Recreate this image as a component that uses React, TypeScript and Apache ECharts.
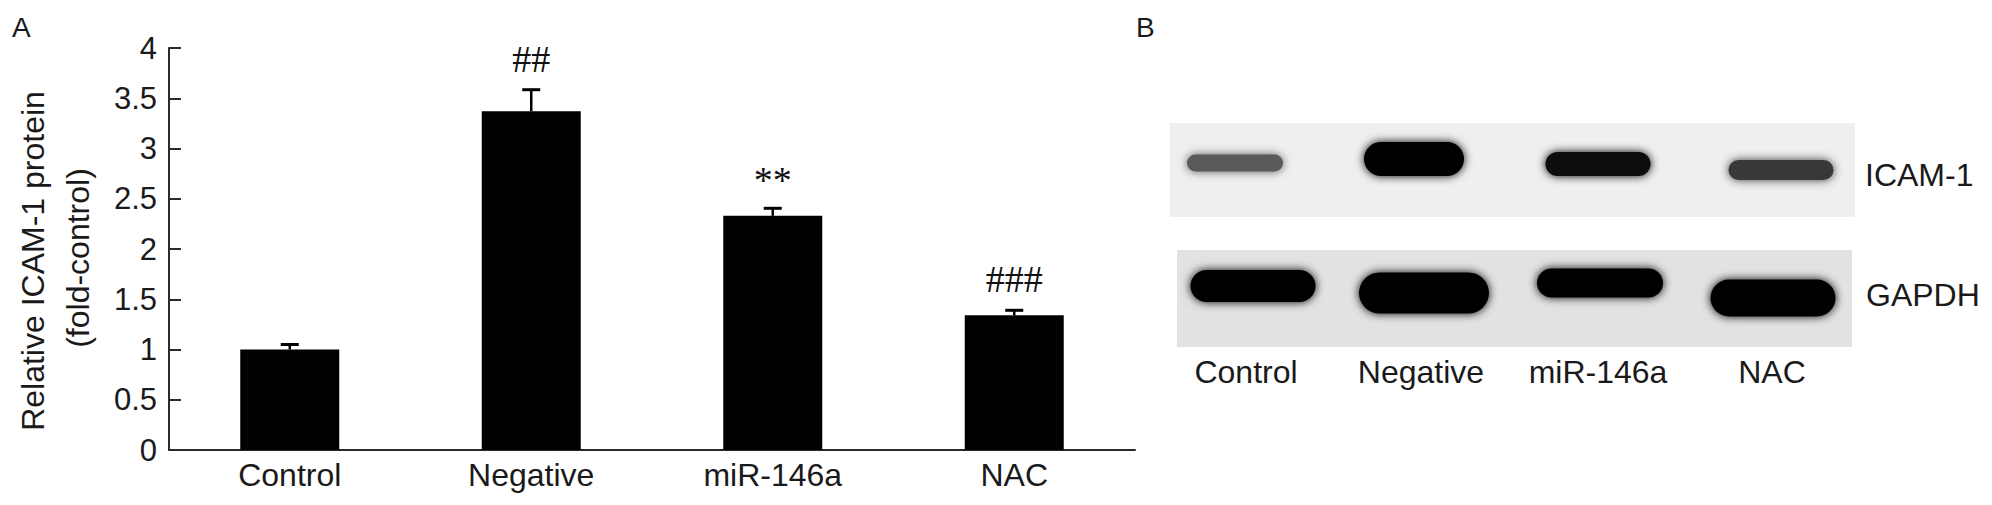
import React, { useEffect, useRef } from 'react';
import * as echarts from 'echarts';

// ---- Panel A data ----
const categories = ['Control', 'Negative', 'miR-146a', 'NAC'];
const means = [1.0, 3.37, 2.33, 1.34];
const errors = [0.05, 0.215, 0.075, 0.05];
const marks = ['', '##', '**', '###'];
const yAxisName = ['Relative ICAM-1 protein', '(fold-control)'];

// ---- Panel B (western blot) ----
const blotRows = ['ICAM-1', 'GAPDH'];
const blotLanes = ['Control', 'Negative', 'miR-146a', 'NAC'];
// band appearance per lane: [centerX, centerY, width, height, grey]
const icamBands = [
  [1235, 163, 96, 17, '#5a5a5a'],
  [1414, 159, 100, 34, '#050505'],
  [1598, 164, 105, 24, '#0c0c0c'],
  [1781, 170, 105, 20, '#383838'],
];
const gapdhBands = [
  [1253, 286, 125, 32, '#050505'],
  [1424, 293, 130, 41, '#000000'],
  [1600, 283, 126, 29, '#050505'],
  [1773, 298, 125, 37, '#000000'],
];
const laneLabelX = [1246, 1421, 1598, 1772];

const SANS = '"Liberation Sans", Arial, sans-serif';
const SERIF = '"Liberation Serif", "Times New Roman", serif';
const TXT = '#1a1a1a';
const AXIS = '#2a2a2a';

function bandRects(bands: any[]) {
  return bands.map((b) => {
    const [cx, cy, w, h, c] = b;
    return {
      type: 'rect',
      shape: { x: cx - w / 2, y: cy - h / 2, width: w, height: h, r: h / 2 },
      style: { fill: c, shadowBlur: 10, shadowColor: c },
      z: 10,
    };
  });
}

export default function App() {
  const ref = useRef<HTMLDivElement>(null);
  useEffect(() => {
    const chart = echarts.init(ref.current!, null, { renderer: 'svg', width: 1992, height: 505 });
    const option: any = {
      animation: false,
      backgroundColor: '#ffffff',
      grid: { left: 169, top: 48, right: 857, bottom: 55, containLabel: false },
      xAxis: {
        type: 'category',
        data: categories,
        axisLine: { lineStyle: { color: AXIS, width: 2 } },
        axisTick: { inside: true, length: 13, lineStyle: { color: AXIS, width: 2 } },
        axisLabel: { color: TXT, fontSize: 32, fontFamily: SANS, margin: 9 },
        splitLine: { show: false },
      },
      yAxis: {
        type: 'value',
        min: 0,
        max: 4,
        interval: 0.5,
        axisLine: { show: true, lineStyle: { color: AXIS, width: 2 } },
        axisTick: { show: true, inside: true, length: 12, lineStyle: { color: AXIS, width: 2 } },
        axisLabel: { color: TXT, fontSize: 31, fontFamily: SANS, margin: 12 },
        splitLine: { show: false },
      },
      series: [
        { type: 'bar', data: means, barWidth: 99, itemStyle: { color: '#000000' }, z: 2 },
        {
          type: 'custom',
          data: means.map((m, i) => [i, m, errors[i]]),
          encode: { x: 0, y: 1 },
          clip: false,
          z: 3,
          renderItem: (params: any, api: any) => {
            const i = api.value(0);
            const m = api.value(1);
            const e = api.value(2);
            const base = api.coord([i, m]);
            const top = api.coord([i, m + e]);
            const children: any[] = [
              { type: 'line', shape: { x1: top[0], y1: base[1], x2: top[0], y2: top[1] }, style: { stroke: '#000', lineWidth: 2.5 } },
              { type: 'line', shape: { x1: top[0] - 9, y1: top[1], x2: top[0] + 9, y2: top[1] }, style: { stroke: '#000', lineWidth: 3 } },
            ];
            const mk = marks[params.dataIndex];
            if (mk) {
              const star = mk.indexOf('*') >= 0;
              children.push({
                type: 'text', x: top[0], y: top[1] - (star ? 28 : 31),
                style: { text: mk, fontSize: 38, fontFamily: SERIF, fill: '#111', align: 'center', verticalAlign: 'middle' },
              });
            }
            return { type: 'group', children };
          },
        },
      ],
      graphic: [
        { type: 'text', x: 12, y: 27, style: { text: 'A', fontSize: 28, fontFamily: SANS, fill: TXT, verticalAlign: 'middle' } },
        { type: 'text', x: 1136, y: 27, style: { text: 'B', fontSize: 28, fontFamily: SANS, fill: TXT, verticalAlign: 'middle' } },
        { type: 'text', x: 33, y: 261, rotation: Math.PI / 2, style: { text: yAxisName[0], fontSize: 32, fontFamily: SANS, fill: TXT, align: 'center', verticalAlign: 'middle' } },
        { type: 'text', x: 78, y: 258, rotation: Math.PI / 2, style: { text: yAxisName[1], fontSize: 32, fontFamily: SANS, fill: TXT, align: 'center', verticalAlign: 'middle' } },
        { type: 'rect', shape: { x: 1170, y: 123, width: 685, height: 94 }, style: { fill: '#efefef' }, z: 5 },
        { type: 'rect', shape: { x: 1177, y: 250, width: 675, height: 97 }, style: { fill: '#e2e2e2' }, z: 5 },
        ...bandRects(icamBands),
        ...bandRects(gapdhBands),
        { type: 'text', x: 1865, y: 175, style: { text: blotRows[0], fontSize: 32, fontFamily: SANS, fill: TXT, verticalAlign: 'middle' }, z: 12 },
        { type: 'text', x: 1866, y: 295, style: { text: blotRows[1], fontSize: 32, fontFamily: SANS, fill: TXT, verticalAlign: 'middle' }, z: 12 },
        ...blotLanes.map((t, i) => ({
          type: 'text', x: laneLabelX[i], y: 372,
          style: { text: t, fontSize: 32, fontFamily: SANS, fill: TXT, align: 'center', verticalAlign: 'middle' },
          z: 12,
        })),
      ],
    };
    chart.setOption(option);
    return () => chart.dispose();
  }, []);
  return <div ref={ref} style={{ position: 'fixed', left: 0, top: 0, width: 1992, height: 505, background: '#fff' }} />;
}
